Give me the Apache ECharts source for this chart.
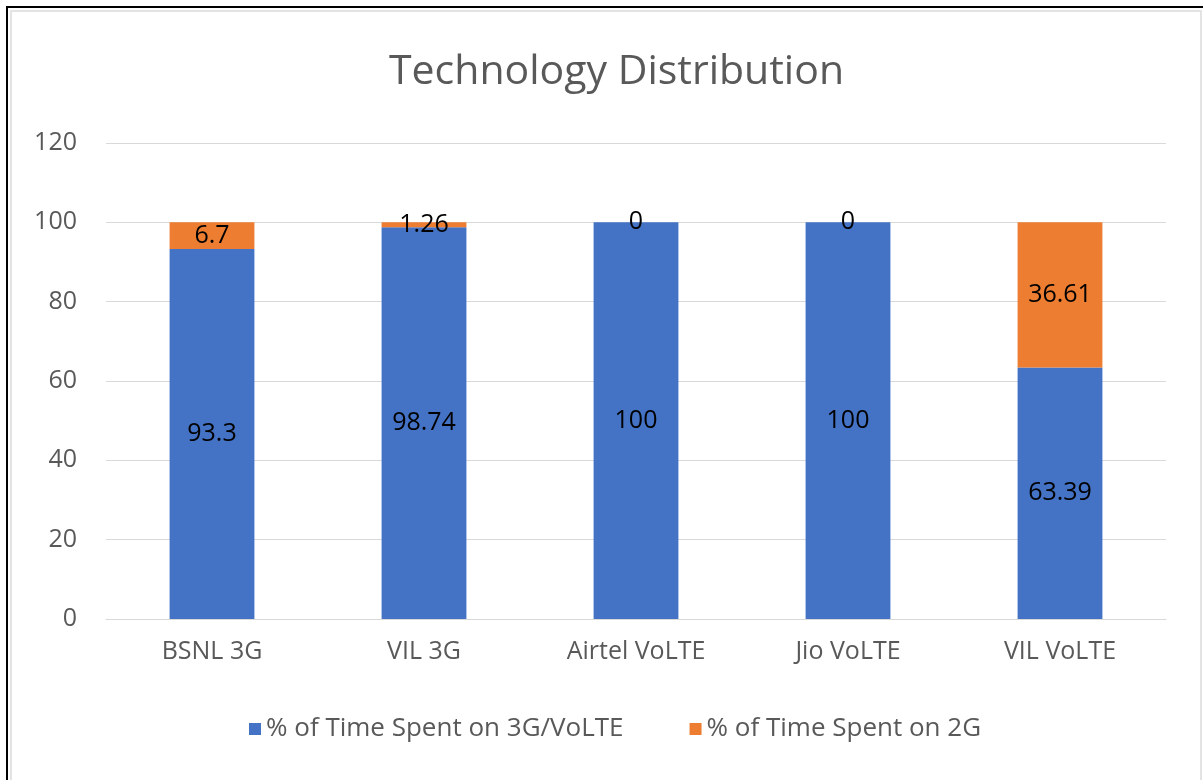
<!DOCTYPE html>
<html>
<head>
<meta charset="utf-8">
<script src="https://cdn.jsdelivr.net/npm/echarts@6/dist/echarts.min.js"></script>
<style>
  html, body { margin: 0; padding: 0; background: #fff; }
  #chart { width: 1203px; height: 780px; }
</style>
</head>
<body>
<div id="chart"></div>
<script>
// 数据
var categories = ['BSNL 3G', 'VIL 3G', 'Airtel VoLTE', 'Jio VoLTE', 'VIL VoLTE'];
var seriesNames = ['% of Time Spent on 3G/VoLTE', '% of Time Spent on 2G'];
var timeOn3G = [93.3, 98.74, 100, 100, 63.39];
var timeOn2G = [6.7, 1.26, 0, 0, 36.61];
var yTicks = [0, 20, 40, 60, 80, 100, 120];

var font = 'Open Sans';
var chart = echarts.init(document.getElementById('chart'));

function barSeries(name, data, color) {
  return {
    name: name,
    type: 'bar',
    stack: 'total',
    barWidth: '40%',
    data: data,
    itemStyle: { color: color },
    label: {
      show: true,
      position: 'inside',
      color: '#000',
      fontFamily: font,
      fontSize: 25
    }
  };
}

chart.setOption({
  animation: false,
  title: {
    text: 'Technology Distribution',
    left: 384,
    top: 47,
    textStyle: { fontFamily: font, fontSize: 41, fontWeight: 'normal', color: '#595959' }
  },
  legend: {
    data: seriesNames,
    left: 244,
    top: 711,
    icon: 'rect',
    itemWidth: 12,
    itemHeight: 12,
    itemGap: 66,
    textStyle: { fontFamily: font, fontSize: 26, color: '#595959' }
  },
  grid: { left: 106, right: 37, top: 143, bottom: 161 },
  xAxis: {
    type: 'category',
    data: categories,
    axisTick: { show: false },
    axisLine: { lineStyle: { color: '#D9D9D9' } },
    axisLabel: { margin: 20, fontFamily: font, fontSize: 25, color: '#595959' }
  },
  yAxis: {
    type: 'value',
    min: yTicks[0],
    max: yTicks[yTicks.length - 1],
    interval: yTicks[1] - yTicks[0],
    axisLine: { show: false },
    axisTick: { show: false },
    splitLine: { lineStyle: { color: '#D9D9D9' } },
    axisLabel: { margin: 29, fontFamily: font, fontSize: 25, color: '#595959' }
  },
  graphic: [
    // 外框
    { type: 'rect', shape: { x: 7, y: 7, width: 1210, height: 800 }, style: { fill: null, stroke: '#000', lineWidth: 2 }, silent: true },
    { type: 'rect', shape: { x: 11, y: 11, width: 1190, height: 800 }, style: { fill: null, stroke: '#E3E3E3', lineWidth: 2 }, silent: true }
  ],
  series: [
    barSeries(seriesNames[0], timeOn3G, '#4472C4'),
    barSeries(seriesNames[1], timeOn2G, '#ED7D31')
  ]
});
</script>
</body>
</html>
